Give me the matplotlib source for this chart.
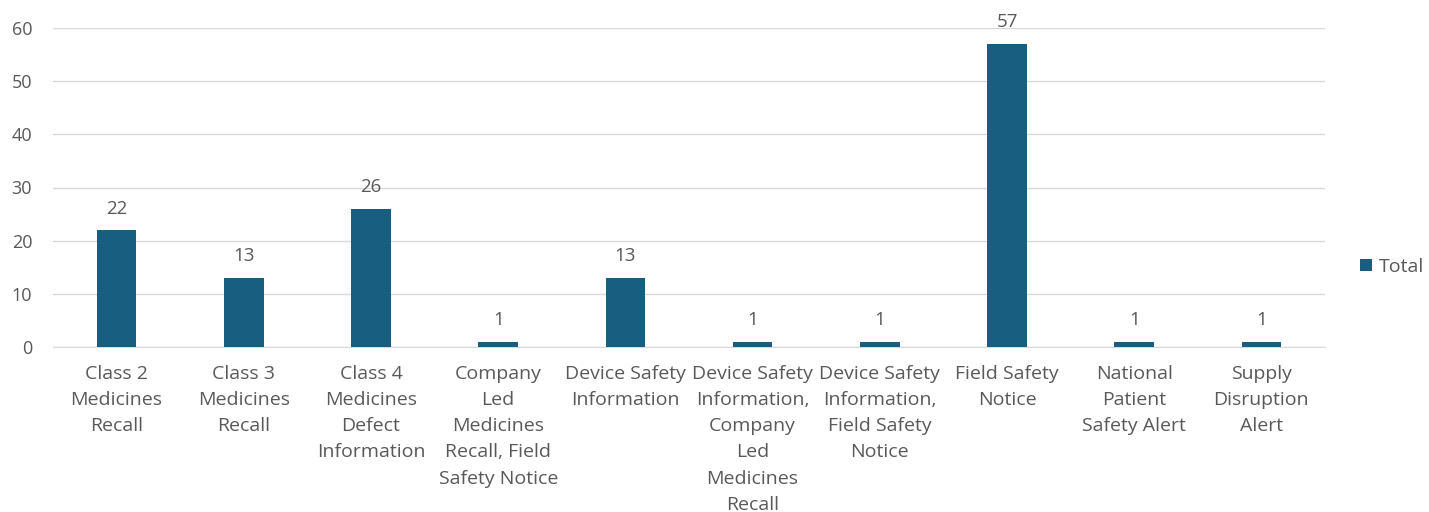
import matplotlib
matplotlib.use("Agg")
import matplotlib.pyplot as plt

categories = [
    "Class 2\nMedicines\nRecall",
    "Class 3\nMedicines\nRecall",
    "Class 4\nMedicines\nDefect\nInformation",
    "Company\nLed\nMedicines\nRecall, Field\nSafety Notice",
    "Device Safety\nInformation",
    "Device Safety\nInformation,\nCompany\nLed\nMedicines\nRecall",
    "Device Safety\nInformation,\nField Safety\nNotice",
    "Field Safety\nNotice",
    "National\nPatient\nSafety Alert",
    "Supply\nDisruption\nAlert",
]
totals = [22, 13, 26, 1, 13, 1, 1, 57, 1, 1]
series_name = "Total"
y_ticks = [0, 10, 20, 30, 40, 50, 60]

plt.rcParams['font.family'] = ['Open Sans', 'DejaVu Sans']
text_color = "#595959"
bar_color = "#185E81"

fig = plt.figure(figsize=(14.29, 5.12), dpi=100)
ax = fig.add_axes([53/1429, 1-347/512, (1325-53)/1429, (347-28)/512])

x = list(range(len(categories)))
bars = ax.bar(x, totals, width=0.31, color=bar_color, label=series_name, zorder=3)
for xi, v in zip(x, totals):
    ax.annotate(str(v), (xi, v), xytext=(0, 9), textcoords="offset points",
                ha="center", va="bottom", fontsize=13.5, color=text_color)

ax.set_xlim(-0.5, len(categories) - 0.5)
ax.set_ylim(0, 60)
ax.set_yticks(y_ticks)
ax.set_yticklabels([str(t) for t in y_ticks], fontsize=13, color=text_color)
ax.set_xticks(x)
ax.set_xticklabels(categories, fontsize=14, color=text_color, linespacing=1.58)
ax.tick_params(axis="both", length=0)
ax.tick_params(axis="x", pad=13)
ax.tick_params(axis="y", pad=15)
ax.grid(axis="y", color="#D9D9D9", linewidth=1, zorder=0)
for s in ["top", "right", "left"]:
    ax.spines[s].set_visible(False)
ax.spines["bottom"].set_color("#D9D9D9")
ax.spines["bottom"].set_zorder(2)

leg = ax.legend(loc="center left", bbox_to_anchor=(1360/1429, 1-267/512),
                bbox_transform=fig.transFigure, frameon=False, fontsize=14,
                handlelength=0.6, handleheight=0.6, handletextpad=0.35,
                borderaxespad=0, borderpad=0)
for t in leg.get_texts():
    t.set_color(text_color)

fig.savefig("out.png", dpi=100)
